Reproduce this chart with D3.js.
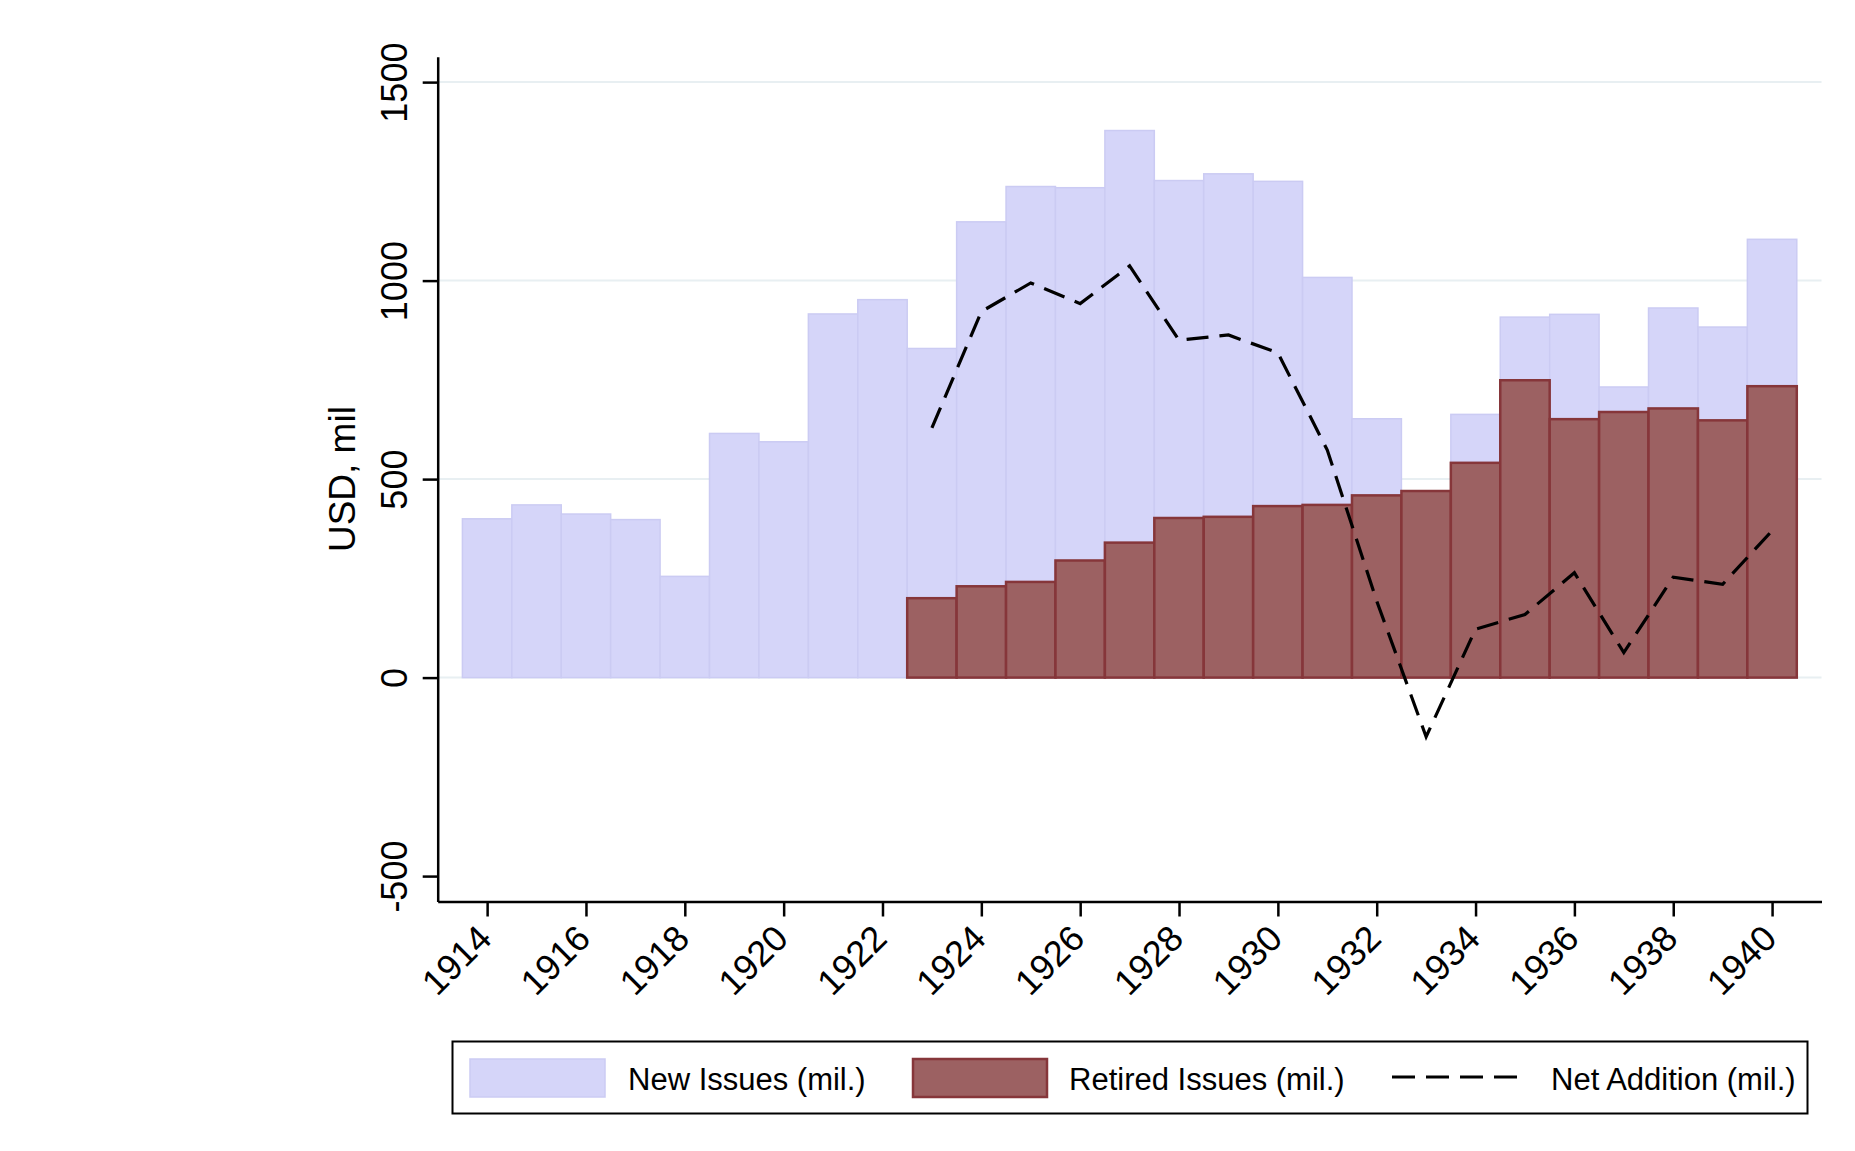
<!DOCTYPE html>
<html>
<head>
<meta charset="utf-8">
<script src="https://cdn.jsdelivr.net/npm/d3@7"></script>
<style>
  body { margin: 0; background: #fff; }
  text { font-family: "Liberation Sans", Arial, Helvetica, sans-serif; fill: #000; }
</style>
</head>
<body>
<script>
	var w = 1855;
	var h = 1151;

	// data
	var years = [1914,1915,1916,1917,1918,1919,1920,1921,1922,1923,1924,1925,1926,1927,
		1928,1929,1930,1931,1932,1933,1934,1935,1936,1937,1938,1939,1940];
	var newIssues = [400,435,412,398,255,615,594,916,952,829,1148,1237,1234,1378,
		1252,1269,1250,1008,652,321,663,908,915,732,931,883,1104];
	var retiredIssues = [null,null,null,null,null,null,null,null,null,200,230,241,295,340,
		402,405,432,435,459,470,541,749,651,669,678,648,734];
	var netAddition = [null,null,null,null,null,null,null,null,null,629,922,994,942,1037,
		850,863,818,573,193,-149,122,159,264,63,253,235,370];
	var xTicks = [1914,1916,1918,1920,1922,1924,1926,1928,1930,1932,1934,1936,1938,1940];
	var yTicks = [-500,0,500,1000,1500];
	var legendLabels = ["New Issues (mil.)","Retired Issues (mil.)","Net Addition (mil.)"];

	var plotL = 437.7, plotR = 1821.5, plotT = 56.7, plotB = 901.5;

	var xScale = d3.scaleLinear()
					.domain([1913,1941])
					.range([plotL,plotR]);

	var yScale = d3.scaleLinear()
					.domain([-564,1564])
					.range([plotB,plotT]);

	var svg = d3.select("body")
				.append("svg")
				.attr("width",w)
				.attr("height",h);

	// grid
	svg.selectAll("line.grid")
		.data([0,500,1000,1500])
		.enter()
		.append("line")
		.attr("class","grid")
		.attr("x1",plotL)
		.attr("x2",plotR)
		.attr("y1",function(d){ return yScale(d); })
		.attr("y2",function(d){ return yScale(d); })
		.attr("stroke","#e8eff2")
		.attr("stroke-width",2);

	var rows = years.map(function(y,i){
		return {year:y, nw:newIssues[i], rt:retiredIssues[i], net:netAddition[i]};
	});

	// new issues
	svg.selectAll("rect.new")
		.data(rows)
		.enter()
		.append("rect")
		.attr("class","new")
		.attr("x",function(d){ return xScale(d.year-0.5); })
		.attr("width",function(d){ return xScale(d.year+0.5)-xScale(d.year-0.5); })
		.attr("y",function(d){ return yScale(d.nw); })
		.attr("height",function(d){ return yScale(0)-yScale(d.nw); })
		.attr("fill","#d5d5f9")
		.attr("stroke","#cbcbf3")
		.attr("stroke-width",1.5);

	// retired issues
	svg.selectAll("rect.ret")
		.data(rows.filter(function(d){ return d.rt!=null; }))
		.enter()
		.append("rect")
		.attr("class","ret")
		.attr("x",function(d){ return xScale(d.year-0.5); })
		.attr("width",function(d){ return xScale(d.year+0.5)-xScale(d.year-0.5); })
		.attr("y",function(d){ return yScale(d.rt); })
		.attr("height",function(d){ return yScale(0)-yScale(d.rt); })
		.attr("fill","#9c6162")
		.attr("stroke","#86363a")
		.attr("stroke-width",2.5);

	// net addition
	var line = d3.line()
		.defined(function(d){ return d.net!=null; })
		.x(function(d){ return xScale(d.year); })
		.y(function(d){ return yScale(d.net); });

	svg.append("path")
		.datum(rows)
		.attr("d",line)
		.attr("fill","none")
		.attr("stroke","#000")
		.attr("stroke-width",3.2)
		.attr("stroke-dasharray","22,11");

	// axes
	var yAxis = svg.append("g")
		.attr("transform","translate("+plotL+",0)")
		.call(d3.axisLeft(yScale).tickValues(yTicks).tickSize(15).tickSizeOuter(0)
			.tickFormat(function(d){ return String(d); }));

	yAxis.select(".domain").attr("stroke-width",2.5);
	yAxis.selectAll(".tick line").attr("stroke-width",2.5);
	yAxis.selectAll(".tick text")
		.attr("x",0)
		.attr("y",-31)
		.attr("dy",0)
		.attr("transform","rotate(-90)")
		.attr("text-anchor","middle")
		.style("font-size","36px")
		.style("font-family","Liberation Sans, Arial, sans-serif");

	var xAxis = svg.append("g")
		.attr("transform","translate(0,"+plotB+")")
		.call(d3.axisBottom(xScale).tickValues(xTicks).tickSize(15).tickSizeOuter(0)
			.tickFormat(function(d){ return String(d); }));

	xAxis.select(".domain").attr("stroke-width",2.5);
	xAxis.selectAll(".tick line").attr("stroke-width",2.5);
	xAxis.selectAll(".tick text")
		.attr("x",0)
		.attr("y",0)
		.attr("dy",0)
		.attr("transform","translate(6,39) rotate(-45)")
		.attr("text-anchor","end")
		.style("font-size","36px")
		.style("font-family","Liberation Sans, Arial, sans-serif");

	svg.append("text")
		.attr("transform","translate(355,"+((plotT+plotB)/2)+") rotate(-90)")
		.attr("text-anchor","middle")
		.style("font-size","37px")
		.text("USD, mil");

	// legend
	var lg = svg.append("g");
	lg.append("rect")
		.attr("x",452.5)
		.attr("y",1041.5)
		.attr("width",1355)
		.attr("height",72)
		.attr("fill","#fff")
		.attr("stroke","#000")
		.attr("stroke-width",2);

	lg.append("rect")
		.attr("x",470).attr("y",1059)
		.attr("width",135).attr("height",38)
		.attr("fill","#d5d5f9").attr("stroke","#cbcbf3").attr("stroke-width",1.5);
	lg.append("rect")
		.attr("x",913).attr("y",1059)
		.attr("width",134).attr("height",38)
		.attr("fill","#9c6162").attr("stroke","#86363a").attr("stroke-width",2.5);
	lg.append("line")
		.attr("x1",1392).attr("x2",1518)
		.attr("y1",1077).attr("y2",1077)
		.attr("stroke","#000").attr("stroke-width",3.2)
		.attr("stroke-dasharray","23,11");

	lg.selectAll("text")
		.data(legendLabels)
		.enter()
		.append("text")
		.attr("x",function(d,i){ return [628,1069,1551][i]; })
		.attr("y",1090)
		.style("font-size","31px")
		.text(function(d){ return d; });
</script>
</body>
</html>
